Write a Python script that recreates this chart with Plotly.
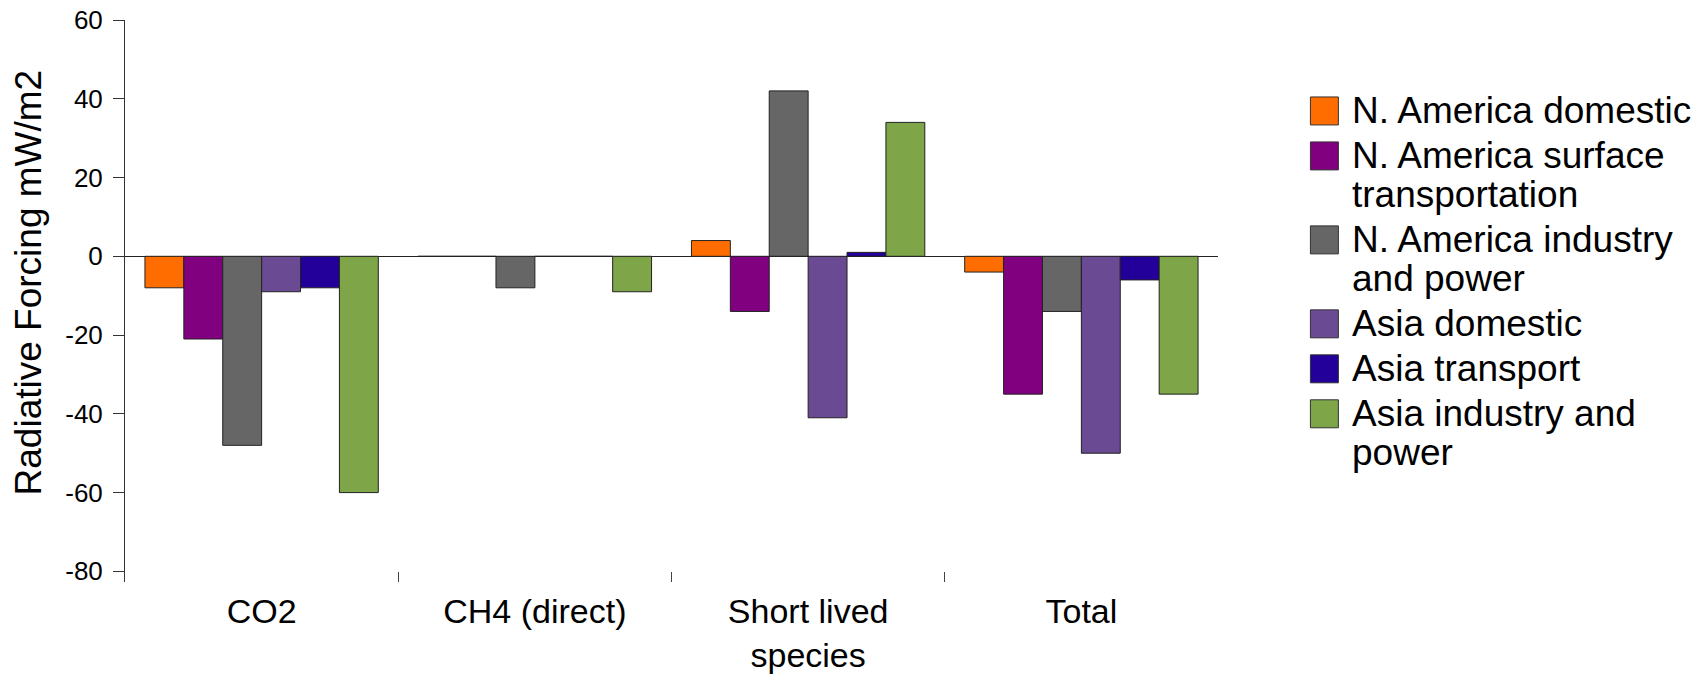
import plotly.graph_objects as go

categories = ["CO2", "CH4 (direct)", "Short lived<br>species", "Total"]

series_names = [
    "N. America domestic",
    "N. America surface transportation",
    "N. America industry and power",
    "Asia domestic",
    "Asia transport",
    "Asia industry and power",
]
legend_lines = [
    ["N. America domestic"],
    ["N. America surface", "transportation"],
    ["N. America industry", "and power"],
    ["Asia domestic"],
    ["Asia transport"],
    ["Asia industry and", "power"],
]

na_domestic = [-8, 0, 4, -4]
na_surface_transport = [-21, 0, -14, -35]
na_industry_power = [-48, -8, 42, -14]
asia_domestic = [-9, 0, -41, -50]
asia_transport = [-8, 0, 1, -6]
asia_industry_power = [-60, -9, 34, -35]

series_values = [
    na_domestic,
    na_surface_transport,
    na_industry_power,
    asia_domestic,
    asia_transport,
    asia_industry_power,
]

colors = ["#FF6D00", "#800080", "#666666", "#6B4A94", "#230099", "#7EA648"]

y_tick_vals = [-80, -60, -40, -20, 0, 20, 40, 60]
y_tick_text = ["-80", "-60", "-40", "-20", "0", "20", "40", "60"]

FONT = "Liberation Sans, Arial, Helvetica, sans-serif"
W, H = 1706, 674
# target plot area in page pixels (body margin removed via post_script)
PL, PR, PT, PB = 124.5, 1218.5, 20.0, 582.3
ML, MT = PL, PT
MR, MB = W - PR, H - PB


def px_x(px):
    return (px - PL) / (PR - PL)


def px_y(py):
    return (PB - py) / (PB - PT)


fig = go.Figure()
for name, vals, col in zip(series_names, series_values, colors):
    fig.add_trace(go.Bar(
        name=name, x=categories, y=vals,
        marker=dict(color=col, line=dict(color="#222222", width=1)),
        showlegend=False,
    ))

# custom legend (large squares + text lines)
shapes = []
annotations = []
line_center = 111
sq = 28
for i, (lines, col) in enumerate(zip(legend_lines, colors)):
    if i > 0:
        line_center += 45
    shapes.append(dict(
        type="rect", xref="paper", yref="paper",
        x0=px_x(1311), x1=px_x(1311 + sq),
        y0=px_y(line_center - sq / 2), y1=px_y(line_center + sq / 2),
        fillcolor=col, line=dict(color="#333333", width=1),
    ))
    for j, txt in enumerate(lines):
        if j > 0:
            line_center += 39
        annotations.append(dict(
            text=txt, xref="paper", yref="paper",
            x=px_x(1351), y=px_y(line_center),
            xanchor="left", yanchor="middle", showarrow=False,
            font=dict(family=FONT, size=37, color="black"),
        ))

annotations.append(dict(
    text="Radiative Forcing mW/m2", xref="paper", yref="paper",
    x=px_x(28), y=px_y(283), xanchor="center", yanchor="middle",
    textangle=-90, showarrow=False,
    font=dict(family=FONT, size=37, color="black"),
))

fig.update_layout(
    width=W, height=H,
    margin=dict(l=ML, r=MR, t=MT, b=MB, autoexpand=False),
    paper_bgcolor="white", plot_bgcolor="white",
    barmode="group", bargap=0.146, bargroupgap=0,
    font=dict(family=FONT, color="black"),
    showlegend=False,
    shapes=shapes, annotations=annotations,
)
fig.update_xaxes(
    automargin=False,
    showline=False, showgrid=False, zeroline=False,
    ticks="inside", tickson="boundaries", ticklen=10, tickwidth=1,
    tickcolor="#444444",
    tickfont=dict(family=FONT, size=34, color="black"),
    ticklabelstandoff=6,
)
fig.update_yaxes(
    automargin=False,
    range=[-82.7, 60], tickvals=y_tick_vals, ticktext=y_tick_text,
    showline=True, linecolor="#333333", linewidth=1,
    ticks="outside", ticklen=11, tickwidth=1, tickcolor="#333333",
    showgrid=False, zeroline=True, zerolinecolor="#222222", zerolinewidth=1,
    tickfont=dict(family=FONT, size=26, color="black"),
    ticklabelstandoff=5, ticklabeloverflow="allow",
)

fig.write_html(
    "out.html",
    config={"displayModeBar": False},
    post_script="document.body.style.margin='0';",
)
